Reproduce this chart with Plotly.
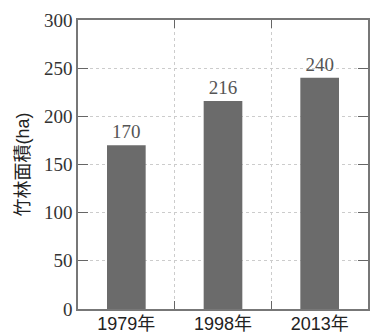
import plotly.graph_objects as go

categories = ["1979年", "1998年", "2013年"]
values = [170, 216, 240]
y_title = "竹林面積(ha)"

serif = "Liberation Serif, Times New Roman, serif"
sans = "Liberation Sans, Noto Sans CJK JP, sans-serif"

fig = go.Figure(go.Bar(
    x=categories, y=values,
    text=[str(v) for v in values], textposition="outside",
    textfont=dict(family=serif, size=19, color="#555555"),
    marker=dict(color="#6b6b6b", line=dict(width=0)),
    width=0.4, cliponaxis=False,
))

fig.update_layout(
    width=370, height=334,
    margin=dict(l=78, r=2, t=20, b=25),
    paper_bgcolor="white", plot_bgcolor="white",
    showlegend=False,
)
fig.update_xaxes(
    type="category", range=[-0.5, 2.5], automargin=False,
    tickson="boundaries", ticks="inside", ticklen=8, tickcolor="#666666",
    showline=True, linecolor="#777777", linewidth=1.5, mirror="ticks",
    showgrid=True, gridcolor="#cccccc", griddash="dot", gridwidth=1,
    tickfont=dict(family=sans, size=18, color="#222222"),
    ticklabelstandoff=-2,
)
fig.update_yaxes(
    range=[0, 300], dtick=50, automargin=False,
    ticks="inside", ticklen=10, tickcolor="#666666",
    showline=True, linecolor="#777777", linewidth=1.5, mirror="ticks",
    showgrid=True, gridcolor="#cccccc", griddash="dot", gridwidth=1,
    tickfont=dict(family=serif, size=19, color="#333333"),
    title=dict(text=y_title, font=dict(family=sans, size=18, color="#222222"), standoff=10),
    zeroline=False,
)

fig.write_html("out.html", config={"displayModeBar": False},
               post_script="document.body.style.margin='0';")
